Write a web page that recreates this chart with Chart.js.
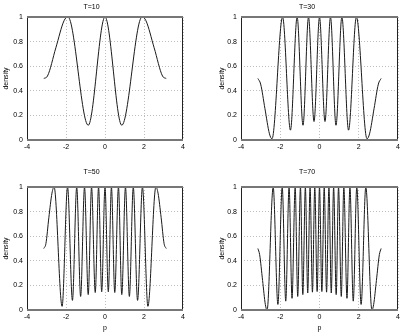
<!DOCTYPE html>
<html>
<head>
<meta charset="utf-8">
<script src="https://cdn.jsdelivr.net/npm/chart.js@4.4.1/dist/chart.umd.min.js"></script>
<style>
  html, body { margin: 0; padding: 0; background: #fff; }
  #wrap { position: relative; width: 404px; height: 333px; overflow: hidden; }
  canvas { position: absolute; }
</style>
</head>
<body>
<div id="wrap">
  <canvas id="c10" width="202" height="165" style="left:0;top:0"></canvas>
  <canvas id="c30" width="188" height="165" style="left:216px;top:0"></canvas>
  <canvas id="c50" width="202" height="168" style="left:0;top:165px"></canvas>
  <canvas id="c70" width="188" height="168" style="left:216px;top:165px"></canvas>
</div>
<script>
// values (peaks, troughs and a few points near the ends)
const p10 = [-3.14, -2.95, -2.52, -2.1, -1.9, -0.86, 0, 0.86, 1.9, 2.1, 2.52, 2.95, 3.14];
const d10 = [0.5, 0.52, 0.75, 0.97, 1, 0.12, 1, 0.12, 1, 0.97, 0.75, 0.52, 0.5];

const p30 = [-3.14, -3.0, -2.78, -2.55, -2.42, -1.88, -1.48, -1.14, -0.84, -0.56, -0.28, 0,
  0.28, 0.56, 0.84, 1.14, 1.48, 1.88, 2.42, 2.55, 2.78, 3.0, 3.14];
const d30 = [0.5, 0.455, 0.255, 0.05, 0.01, 1, 0.08, 1, 0.12, 1, 0.15, 1,
  0.15, 1, 0.12, 1, 0.08, 1, 0.01, 0.05, 0.255, 0.455, 0.5];

const p50 = [-3.14, -3.03, -2.88, -2.72, -2.61, -2.2, -1.92, -1.67, -1.45, -1.25, -1.05, -0.86,
  -0.69, -0.5, -0.33, -0.17, 0, 0.17, 0.33, 0.5, 0.69, 0.86, 1.05, 1.25, 1.45, 1.67, 1.92,
  2.2, 2.61, 2.72, 2.88, 3.03, 3.14];
const d50 = [0.5, 0.54, 0.75, 0.95, 1, 0.03, 1, 0.078, 1, 0.11, 1, 0.125,
  1, 0.142, 1, 0.148, 1, 0.148, 1, 0.142, 1, 0.125, 1, 0.11, 1, 0.078, 1,
  0.03, 1, 0.95, 0.75, 0.54, 0.5];

const p70 = [-3.14, -3.05, -2.9, -2.76, -2.67, -2.36, -2.12, -1.9, -1.72, -1.55, -1.4, -1.24,
  -1.11, -0.97, -0.85, -0.72, -0.6, -0.48, -0.36, -0.24, -0.12, 0, 0.12, 0.24, 0.36, 0.48,
  0.6, 0.72, 0.85, 0.97, 1.11, 1.24, 1.4, 1.55, 1.72, 1.9, 2.12, 2.36, 2.67, 2.76, 2.9,
  3.05, 3.14];
const d70 = [0.5, 0.45, 0.24, 0.045, 0, 1, 0.045, 1, 0.072, 1, 0.095, 1,
  0.11, 1, 0.125, 1, 0.138, 1, 0.145, 1, 0.15, 1, 0.15, 1, 0.145, 1,
  0.138, 1, 0.125, 1, 0.11, 1, 0.095, 1, 0.072, 1, 0.045, 1, 0, 0.045, 0.24,
  0.45, 0.5];

const xTicks = [-4, -2, 0, 2, 4];
const yTicks = [0, 0.2, 0.4, 0.6, 0.8, 1];
const yTickLabels = ['0', '0.2', '0.4', '0.6', '0.8', '1'];

const FONT = 'Liberation Sans, Arial, Helvetica, sans-serif';

// matlab style box round the plot area
const framePlugin = {
  id: 'frame',
  afterDatasetsDraw(chart) {
    const { ctx } = chart;
    const a = chart.chartArea;
    const l = Math.round(a.left), r = Math.round(a.right);
    const t = Math.round(a.top), b = Math.round(a.bottom);
    ctx.save();
    ctx.strokeStyle = '#222';
    ctx.lineWidth = 1;
    ctx.beginPath();
    ctx.moveTo(l + 0.5, t); ctx.lineTo(l + 0.5, b);
    ctx.moveTo(r - 0.5, t); ctx.lineTo(r - 0.5, b);
    ctx.stroke();
    ctx.strokeStyle = '#777';
    ctx.lineWidth = 2;
    ctx.beginPath();
    ctx.moveTo(l, t); ctx.lineTo(r, t);
    ctx.moveTo(l, b); ctx.lineTo(r, b);
    ctx.stroke();
    ctx.restore();
  }
};

function makePanel(id, title, xs, ys, cfg) {
  const canvas = document.getElementById(id);
  const points = xs.map((x, i) => ({ x, y: ys[i] }));

  return new Chart(canvas, {
    type: 'line',
    data: {
      datasets: [{
        data: points,
        borderColor: '#1a1a1a',
        borderWidth: 1,
        pointRadius: 0,
        fill: false,
        cubicInterpolationMode: 'monotone'
      }]
    },
    options: {
      responsive: false,
      animation: false,
      devicePixelRatio: 1,
      layout: { padding: { left: 0, right: cfg.right, top: 0, bottom: 0 } },
      plugins: {
        legend: { display: false },
        tooltip: { enabled: false },
        title: {
          display: true,
          text: title,
          color: '#000',
          font: { family: FONT, size: 7, weight: 'normal' },
          padding: cfg.titlePad
        }
      },
      scales: {
        x: {
          type: 'linear',
          min: xTicks[0],
          max: xTicks[xTicks.length - 1],
          afterBuildTicks: s => { s.ticks = xTicks.map(v => ({ value: v })); },
          afterFit: s => { s.height = cfg.xh; },
          ticks: {
            color: '#000',
            font: { family: FONT, size: 7 },
            padding: 3,
            maxRotation: 0,
            callback: v => String(v)
          },
          grid: { color: '#bdbdbd', lineWidth: 1, drawTicks: false },
          border: { display: false, dash: [1, 2] },
          title: {
            display: cfg.xTitle,
            text: 'p',
            color: '#000',
            font: { family: FONT, size: 7 },
            padding: { top: 0, bottom: 1 }
          }
        },
        y: {
          min: 0,
          max: 1,
          afterBuildTicks: s => { s.ticks = yTicks.map(v => ({ value: v })); },
          afterFit: s => { s.width = cfg.yw; },
          ticks: {
            color: '#000',
            font: { family: FONT, size: 7 },
            padding: 4,
            callback: (v, i) => yTickLabels[i]
          },
          grid: { color: '#bdbdbd', lineWidth: 1, drawTicks: false },
          border: { display: false, dash: [1, 2] },
          title: {
            display: true,
            text: 'density',
            color: '#000',
            font: { family: FONT, size: 7 },
            padding: { top: 1.8, bottom: 0 }
          }
        }
      }
    },
    plugins: [framePlugin]
  });
}

makePanel('c10', 'T=10', p10, d10, { right: 19, yw: 27, xh: 25, titlePad: { top: 3.3, bottom: 5.3 }, xTitle: false });
makePanel('c30', 'T=30', p30, d30, { right: 6, yw: 25, xh: 25, titlePad: { top: 3.3, bottom: 5.3 }, xTitle: false });
makePanel('c50', 'T=50', p50, d50, { right: 19, yw: 27, xh: 23, titlePad: { top: 2.8, bottom: 10.8 }, xTitle: true });
makePanel('c70', 'T=70', p70, d70, { right: 6, yw: 25, xh: 23, titlePad: { top: 2.8, bottom: 10.8 }, xTitle: true });
</script>
</body>
</html>
